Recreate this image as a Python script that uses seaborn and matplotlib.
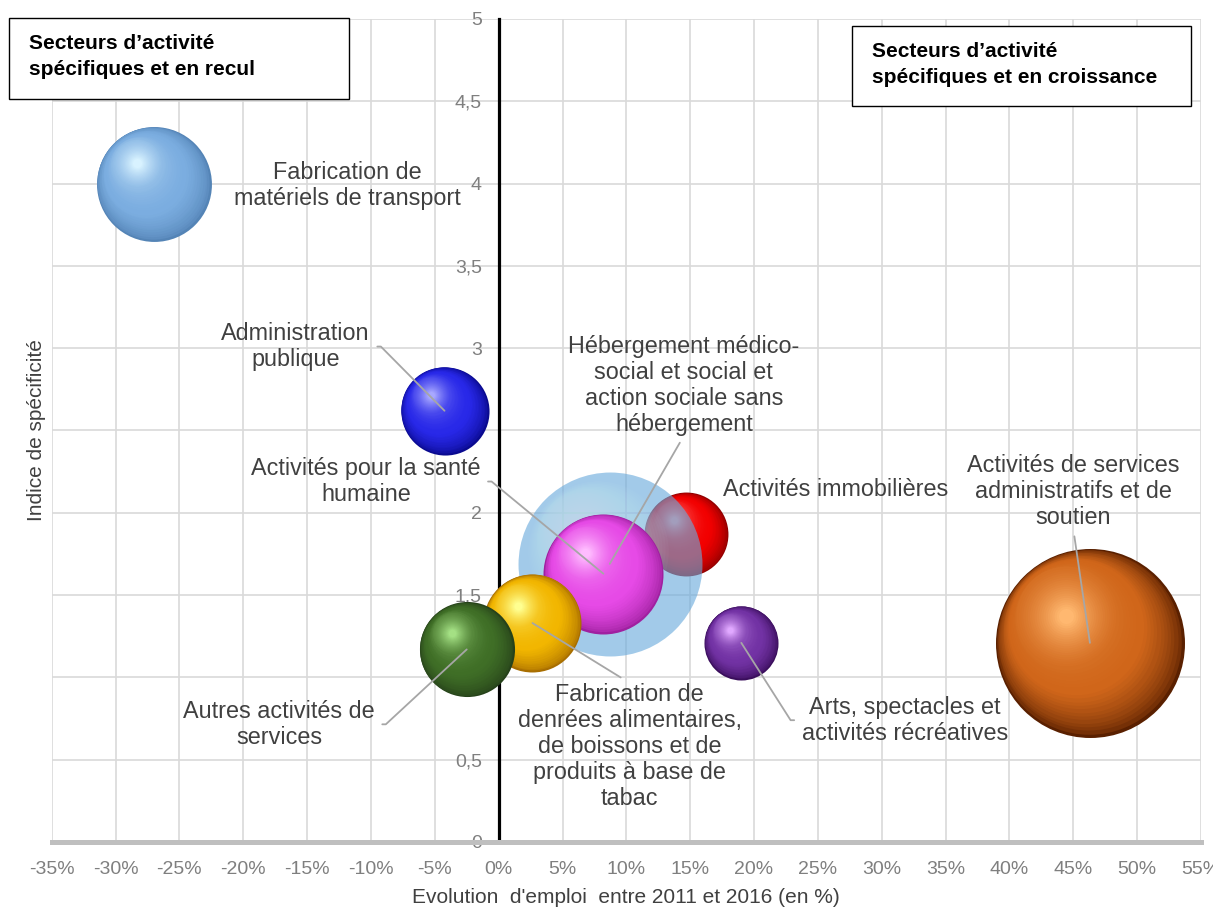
import numpy as np
import pandas as pd
import matplotlib
matplotlib.use("Agg")
import matplotlib.pyplot as plt
import seaborn as sns
from matplotlib.transforms import offset_copy
from matplotlib.patches import Rectangle
from matplotlib.colors import to_rgb

# ---------------- data ----------------
secteurs = [
    "Fabrication de matériels de transport",
    "Administration publique",
    "Activités immobilières",
    "Hébergement médico-social et social et action sociale sans hébergement",
    "Activités pour la santé humaine",
    "Fabrication de denrées alimentaires, de boissons et de produits à base de tabac",
    "Autres activités de services",
    "Arts, spectacles et activités récréatives",
    "Activités de services administratifs et de soutien",
]
evolution = [-27.0, -4.24, 14.7, 8.7, 8.2, 2.65, -2.5, 19.0, 46.3]      # %
indice = [4.00, 2.62, 1.87, 1.69, 1.63, 1.33, 1.17, 1.21, 1.21]
emplois = [3300, 1940, 1760, 8460, 3600, 2400, 2260, 1370, 8930]       # bubble size
libelles = [
    "Fabrication de\nmatériels de transport",
    "Administration\npublique",
    "Activités immobilières",
    "Hébergement médico-\nsocial et social et\naction sociale sans\nhébergement",
    "Activités pour la santé\nhumaine",
    "Fabrication de\ndenrées alimentaires,\nde boissons et de\nproduits à base de\ntabac",
    "Autres activités de\nservices",
    "Arts, spectacles et\nactivités récréatives",
    "Activités de services\nadministratifs et de\nsoutien",
]
x_ticks = [-35, -30, -25, -20, -15, -10, -5, 0, 5, 10, 15, 20, 25, 30, 35, 40, 45, 50, 55]
x_ticklabels = ["-35%", "-30%", "-25%", "-20%", "-15%", "-10%", "-5%", "0%", "5%", "10%",
                "15%", "20%", "25%", "30%", "35%", "40%", "45%", "50%", "55%"]
y_ticks = [0, 0.5, 1, 1.5, 2, 2.5, 3, 3.5, 4, 4.5, 5]
y_ticklabels = ["0", "0,5", "1", "1,5", "2", "2,5", "3", "3,5", "4", "4,5", "5"]

# ---------------- styling (layout only) ----------------
# (dark rim, base, highlight) colours per bubble
sphere_colors = [
    ("#5484b6", "#7bade0", "#d8f2ff"),
    ("#0a0a90", "#2828e8", "#a8a8ff"),
    ("#900000", "#f20000", "#ff8a8a"),
    ("#6aaadc", "#6aaadc", "#d8f0ff"),
    ("#a020a0", "#e64ae6", "#ffbcff"),
    ("#a86e00", "#f2b600", "#ffff90"),
    ("#26421a", "#3f6e26", "#a4e084"),
    ("#3a0e5c", "#7232a4", "#e0a8ff"),
    ("#5a2000", "#d0661a", "#ffb870"),
]
alphas = [1, 1, 1, 0.62, 1, 1, 1, 1, 1]
highlight = [(-0.3, 0.35)] * 8 + [(-0.25, 0.28)]
label_pos = [(-11.85, 3.99), (-15.9, 3.01), (26.4, 2.14), (14.5, 2.775), (-10.4, 2.19),
             (10.25, 0.58), (-17.2, 0.715), (31.8, 0.74), (45.0, 2.13)]
leader = [None, "right", None, "bottom", "right", "top", "right", "left", "bottom"]

df = pd.DataFrame({"secteur": secteurs, "evolution": evolution,
                   "indice": indice, "emplois": emplois})

sns.set_theme(style="white")
plt.rcParams["font.family"] = ["Liberation Sans", "DejaVu Sans"]

W, H = 1213, 909
fig = plt.figure(figsize=(W / 100, H / 100), dpi=100)
ax = fig.add_axes([51.7 / W, 1 - 842 / H, (1201 - 51.7) / W, (842 - 19) / H])

vmax = max(emplois)
smax = (2 * 94.5 * 0.72) ** 2   # marker area (pt^2) for the largest value
sizes_pt = [smax * v / vmax for v in emplois]


def blend(c1, c2, t):
    a, b = np.array(to_rgb(c1)), np.array(to_rgb(c2))
    return tuple(a + (b - a) * min(max(t, 0), 1))


n_layers = 40
for i in range(len(df)):
    row = df.iloc[[i]]
    dark, base, light = sphere_colors[i]
    al = alphas[i]
    z = 3 + i * 0.1
    sns.scatterplot(data=row, x="evolution", y="indice", size="emplois",
                    sizes=(0, smax), size_norm=(0, vmax), color=dark,
                    linewidth=0, legend=False, ax=ax, zorder=z, alpha=al)
    r_pt = np.sqrt(sizes_pt[i]) / 2
    hx, hy = highlight[i]
    hm = np.hypot(hx, hy)
    for k in range(1, n_layers):
        t = k / (n_layers - 1)
        rf = 1 - 0.92 * t
        m = min(0.8 * 0.92 * t, hm)
        dx, dy = hx / hm * m * r_pt, hy / hm * m * r_pt
        if t < 0.3:
            c = blend(dark, base, (t / 0.3) ** 0.6)
        else:
            c = blend(base, light, ((t - 0.3) / 0.7) ** 1.8)
        tr = offset_copy(ax.transData, fig=fig, x=dx, y=dy, units="points")
        if al < 1:
            if t < 0.25:
                continue
            ax.scatter(row["evolution"], row["indice"], s=sizes_pt[i] * rf ** 2, color=light,
                       linewidth=0, alpha=0.035, transform=tr, zorder=z + 0.001 * k)
        else:
            ax.scatter(row["evolution"], row["indice"], s=sizes_pt[i] * rf ** 2, color=c,
                       linewidth=0, transform=tr, zorder=z + 0.001 * k)

# labels with leader lines
relpos = {"right": (1, 0.5), "left": (0, 0.5), "top": (0.5, 1), "bottom": (0.5, 0)}
lab_kw = dict(ha="center", va="center", multialignment="center", fontsize=16.8,
              color="#404040", linespacing=1.17, zorder=10)
for i in range(len(df)):
    tx, ty = label_pos[i]
    if leader[i] is None:
        ax.text(tx, ty, libelles[i], **lab_kw)
    else:
        cs = "arc3,rad=0"
        if leader[i] == "right":
            cs = "arc,angleA=0,armA=11,angleB=0,armB=0,rad=0"
        elif leader[i] == "left":
            cs = "arc,angleA=180,armA=11,angleB=0,armB=0,rad=0"
        ax.annotate(libelles[i], xy=(df["evolution"][i], df["indice"][i]), xycoords="data",
                    xytext=(tx, ty), textcoords="data",
                    arrowprops=dict(arrowstyle="-", color="#a6a6a6", lw=1.3,
                                    shrinkA=3, shrinkB=0, relpos=relpos[leader[i]],
                                    connectionstyle=cs),
                    **lab_kw)

# axes
ax.set_xlim(-35, 55)
ax.set_ylim(0, 5)
ax.set_xticks(x_ticks)
ax.set_xticklabels(x_ticklabels)
ax.set_yticks(y_ticks)
ax.set_yticklabels(y_ticklabels)
ax.grid(True, color="#d9d9d9", linewidth=1.2)
ax.set_axisbelow(True)
ax.tick_params(axis="both", length=0, labelsize=14, labelcolor="#7f7f7f")
ax.tick_params(axis="x", pad=14)
ax.tick_params(axis="y", pad=12)
ax.spines["left"].set_position(("data", 0))
ax.spines["left"].set_color("black")
ax.spines["left"].set_linewidth(2.3)
ax.spines["bottom"].set_color("#bfbfbf")
ax.spines["bottom"].set_linewidth(3.6)
ax.spines["top"].set_visible(False)
ax.spines["right"].set_visible(False)
ax.set_xlabel("Evolution  d'emploi  entre 2011 et 2016 (en %)", fontsize=15, color="#404040", labelpad=7)
ax.set_ylabel("Indice de spécificité", fontsize=15, color="#404040")
ax.yaxis.set_label_coords(-0.005, 0.5)

# quadrant boxes
fig.patches.append(Rectangle((9 / W, 1 - 99 / H), 340 / W, 81 / H, transform=fig.transFigure,
                             facecolor="white", edgecolor="black", linewidth=1.0, zorder=5))
fig.text(29 / W, 1 - 56.7 / H, "Secteurs d’activité\nspécifiques et en recul", fontsize=15,
         fontweight="bold", color="black", ha="left", va="center", linespacing=1.5, zorder=6)
fig.patches.append(Rectangle((851.7 / W, 1 - 106 / H), 339.3 / W, 80 / H, transform=fig.transFigure,
                             facecolor="white", edgecolor="black", linewidth=1.0, zorder=5))
fig.text(871.7 / W, 1 - 64.5 / H, "Secteurs d’activité\nspécifiques et en croissance", fontsize=15,
         fontweight="bold", color="black", ha="left", va="center", linespacing=1.5, zorder=6)

fig.savefig("out.png", dpi=100)
